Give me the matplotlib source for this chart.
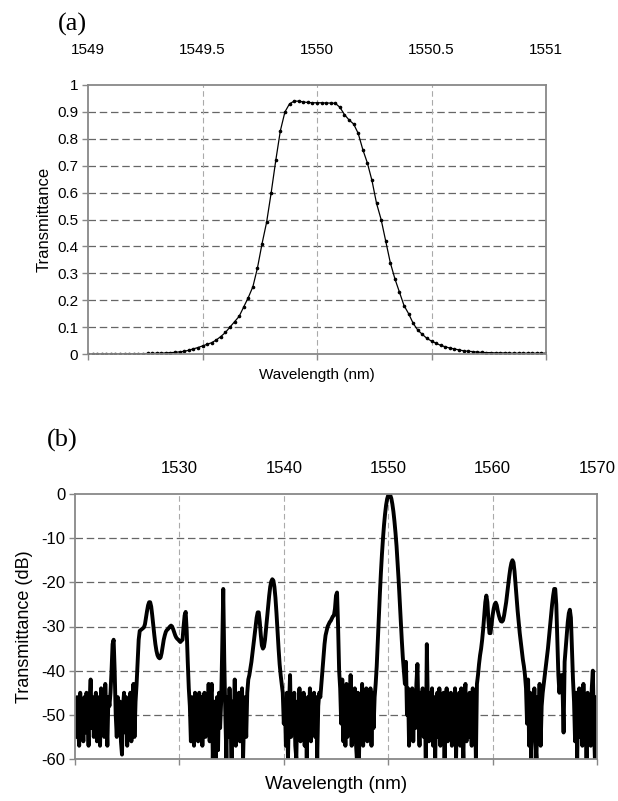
import numpy as np
import matplotlib
matplotlib.use("Agg")
import matplotlib.pyplot as plt

plt.rcParams['font.family'] = ['Liberation Sans', 'DejaVu Sans']
plt.rcParams['axes.unicode_minus'] = False

# (a) narrow scan, 0.02 nm step from 1549.00 to 1551.00
wl_a_start, wl_a_step = 1549.0, 0.02
trans_a = [
    0.000, 0.000, 0.000, 0.000, 0.000, 0.000, 0.000, 0.000, 0.001, 0.001,
    0.001, 0.001, 0.001, 0.002, 0.002, 0.003, 0.003, 0.004, 0.005, 0.006,
    0.008, 0.010, 0.014, 0.019, 0.024, 0.030, 0.036, 0.042, 0.052, 0.065,
    0.080, 0.100, 0.120, 0.140, 0.175, 0.210, 0.250, 0.320, 0.410, 0.490,
    0.600, 0.720, 0.830, 0.900, 0.930, 0.940, 0.940, 0.937, 0.935, 0.934,
    0.934, 0.934, 0.933, 0.933, 0.932, 0.917, 0.890, 0.870, 0.855, 0.820,
    0.760, 0.710, 0.645, 0.560, 0.500, 0.420, 0.340, 0.280, 0.230, 0.180,
    0.150, 0.114, 0.089, 0.073, 0.058, 0.048, 0.040, 0.032, 0.027, 0.022,
    0.019, 0.015, 0.012, 0.010, 0.009, 0.007, 0.006, 0.005, 0.005, 0.004,
    0.004, 0.004, 0.003, 0.003, 0.003, 0.003, 0.003, 0.003, 0.003, 0.003,
    0.003,
]
ticks_a = [1549, 1549.5, 1550, 1550.5, 1551]
tick_labels_a = ['1549', '1549.5', '1550', '1550.5', '1551']

# (b) wide scan, 0.1 nm step from 1520.0 to 1570.0 (one row per nm)
wl_b_start, wl_b_step = 1520.0, 0.1
trans_b = [
    -47, -55, -46, -53, -57, -45, -52, -48, -56, -46,                      # 1520
    -54, -45, -50, -57, -47, -42, -53, -46, -55, -48,                      # 1521
    -45, -56, -49, -46, -57, -44, -52, -47, -55, -43,                      # 1522
    -50, -57, -46, -48, -45, -40, -34, -33, -40, -50,                      # 1523
    -55, -46, -53, -47, -56, -59, -48, -45, -54, -46,                      # 1524
    -57, -47, -52, -45, -56, -48, -43, -55, -47, -43,                      # 1525
    -38, -33, -31, -30.8, -30.6, -30.4, -30.2, -29.5, -28, -26.5,          # 1526
    -25.2, -24.5, -24.5, -25.5, -27.5, -29.8, -32, -34, -35.5, -36.5,      # 1527
    -37, -37.2, -37, -36, -34.5, -33, -32, -31.2, -30.8, -30.6,            # 1528
    -30.3, -30, -29.8, -30, -30.6, -31.3, -32, -32.5, -32.8, -33,          # 1529
    -33.3, -33.5, -33.2, -33, -30, -27.5, -26.7, -31, -38, -44,            # 1530
    -48, -56, -46, -53, -57, -45, -51, -47, -56, -45,                      # 1531
    -53, -46, -57, -48, -45, -55, -47, -52, -43, -56,                      # 1532
    -46, -43, -60, -50, -47, -60, -46, -58, -45, -53,                      # 1533
    -47, -35, -21.5, -38, -50, -60, -46, -55, -44, -52,                    # 1534
    -60, -47, -54, -42, -57, -46, -53, -45, -56, -48,                      # 1535
    -44, -60, -50, -46, -55, -45, -42, -41, -39.5, -38,                    # 1536
    -36, -34, -32, -30, -28, -26.8, -26.8, -29, -32, -34.3,                # 1537
    -35, -34.6, -33, -30.5, -28, -25.5, -23, -21, -19.8, -19.3,            # 1538
    -19.6, -21, -23.5, -27, -31, -35, -38.5, -41, -43, -45,                # 1539
    -52, -47, -57, -45, -60, -48, -41, -55, -46, -53,                      # 1540
    -45, -57, -60, -47, -54, -44, -56, -46, -52, -45,                      # 1541
    -57, -48, -60, -46, -53, -44, -56, -47, -51, -45,                      # 1542
    -55, -46, -60, -48, -45, -46, -43, -40, -37, -34,                      # 1543
    -32, -31, -30, -29.5, -29, -28.7, -28.2, -27.7, -27.5, -26,            # 1544
    -23, -22.3, -30, -40, -44, -52, -42, -56, -45, -57,                    # 1545
    -43, -55, -47, -53, -41, -57, -46, -52, -44, -56,                      # 1546
    -60, -45, -60, -48, -54, -43, -57, -46, -53, -44,                      # 1547
    -56, -47, -52, -44, -57, -45, -53, -46, -43, -39,                      # 1548
    -33.5, -28, -22.7, -17.9, -13.7, -10.1, -7, -4.5, -2.5, -1.1,          # 1549
    -0.3, 0, -0.3, -1.0, -2.3, -4, -6.2, -8.8, -11.8, -15.5,               # 1550
    -19.5, -24, -28.8, -33, -37, -40, -43, -38, -50, -44,                  # 1551
    -57, -45, -52, -44, -56, -46, -53, -43, -38.5, -50,                    # 1552
    -57, -45, -53, -44, -55, -47, -60, -34, -48, -56,                      # 1553
    -45, -52, -44, -57, -46, -60, -48, -45, -55, -44,                      # 1554
    -57, -46, -53, -45, -60, -47, -44, -56, -46, -52,                      # 1555
    -45, -57, -47, -54, -44, -60, -46, -52, -45, -57,                      # 1556
    -44, -53, -60, -46, -43, -56, -47, -55, -45, -52,                      # 1557
    -57, -44, -53, -46, -60, -43, -41, -38.5, -36.5, -35,                  # 1558
    -33, -30.5, -27.5, -24.5, -23, -24.5, -28.5, -31.5, -31.5, -29.5,      # 1559
    -27.5, -26, -25, -24.6, -25.2, -26.5, -27.5, -28.3, -28.8, -28.9,      # 1560
    -28.6, -27.5, -26, -24.5, -22.5, -20.5, -18.5, -16.8, -15.6, -15,      # 1561
    -15.5, -17.5, -20.5, -23.5, -26.5, -29, -31.5, -33.5, -35.5, -37.5,    # 1562
    -39, -41, -44, -52, -42, -57, -45, -60, -47, -53,                      # 1563
    -44, -56, -60, -46, -52, -43, -57, -48, -45, -43,                      # 1564
    -41, -39, -37, -35, -32.5, -30, -27.5, -25, -23, -21.5,                # 1565
    -21.5, -25, -33, -41, -45, -42, -41, -44, -54, -38,                    # 1566
    -35, -32, -29, -27, -26.2, -28, -35, -42, -47, -56,                    # 1567
    -45, -60, -48, -44, -55, -46, -57, -43, -52, -47,                      # 1568
    -60, -45, -54, -46, -57, -44, -40, -52, -60, -46,                      # 1569
    -50,                                                                   # 1570
]
ticks_b = [1520, 1530, 1540, 1550, 1560, 1570]
tick_labels_b = ['', '1530', '1540', '1550', '1560', '1570']

wl_a = wl_a_start + wl_a_step * np.arange(len(trans_a))
wl_b = wl_b_start + wl_b_step * np.arange(len(trans_b))

fig = plt.figure(figsize=(6.18, 8.01), dpi=100)
ax_a = fig.add_axes([88 / 618, 1 - 354 / 801, 458 / 618, 269 / 801])
ax_b = fig.add_axes([75 / 618, 1 - 759 / 801, 522 / 618, 265 / 801])

spine_col = '#888888'


def style_axes(ax, fs, pad_top):
    for s in ax.spines.values():
        s.set_color(spine_col)
        s.set_linewidth(1.3)
    ax.tick_params(axis='x', labeltop=True, labelbottom=False, top=False, bottom=True,
                   direction='out', length=4, width=1, color=spine_col,
                   labelsize=fs, pad=pad_top)
    ax.tick_params(axis='y', direction='out', length=4, width=1, color=spine_col,
                   labelsize=fs, pad=3)


# ---- panel (a)
ax_a.plot(wl_a, trans_a, color='black', lw=0.9, marker='.', markersize=3.2)
ax_a.set_xlim(1549, 1551)
ax_a.set_ylim(0, 1)
ax_a.set_xticks(ticks_a)
ax_a.set_xticklabels(tick_labels_a)
ax_a.set_yticks(np.round(np.arange(0, 1.01, 0.1), 1))
ax_a.set_yticklabels(['0'] + ['%.1f' % v for v in np.arange(0.1, 0.95, 0.1)] + ['1'])
for v in np.arange(0.1, 0.95, 0.1):
    ax_a.axhline(v, color='#666666', lw=0.9, ls=(0, (6, 3)), zorder=0)
for v in ticks_a[1:-1]:
    ax_a.axvline(v, color='#aaaaaa', lw=0.8, ls=(0, (5, 3)), zorder=0)
style_axes(ax_a, 11, 16)
ax_a.set_xlabel('Wavelength (nm)', fontsize=11, labelpad=6)
ax_a.set_ylabel('Transmittance', fontsize=12, labelpad=4)
fig.text(72 / 618, 1 - 24 / 801, '(a)', family='Liberation Serif', fontsize=19,
         ha='center', va='center')

# ---- panel (b)
ax_b.plot(wl_b, trans_b, color='black', lw=2.8)
ax_b.set_xlim(1520, 1570)
ax_b.set_ylim(-60, 0)
ax_b.set_xticks(ticks_b)
ax_b.set_xticklabels(tick_labels_b)
ax_b.set_yticks(range(-60, 1, 10))
for v in range(-50, 0, 10):
    ax_b.axhline(v, color='#666666', lw=0.9, ls=(0, (6, 3)), zorder=0)
for v in ticks_b[1:-1]:
    ax_b.axvline(v, color='#aaaaaa', lw=0.8, ls=(0, (5, 3)), zorder=0)
style_axes(ax_b, 12, 9)
ax_b.set_xlabel('Wavelength (nm)', fontsize=13.5, labelpad=8)
ax_b.set_ylabel('Transmittance (dB)', fontsize=13, labelpad=6)
fig.text(62 / 618, 1 - 440 / 801, '(b)', family='Liberation Serif', fontsize=19,
         ha='center', va='center')

fig.savefig('out.png', dpi=100)
